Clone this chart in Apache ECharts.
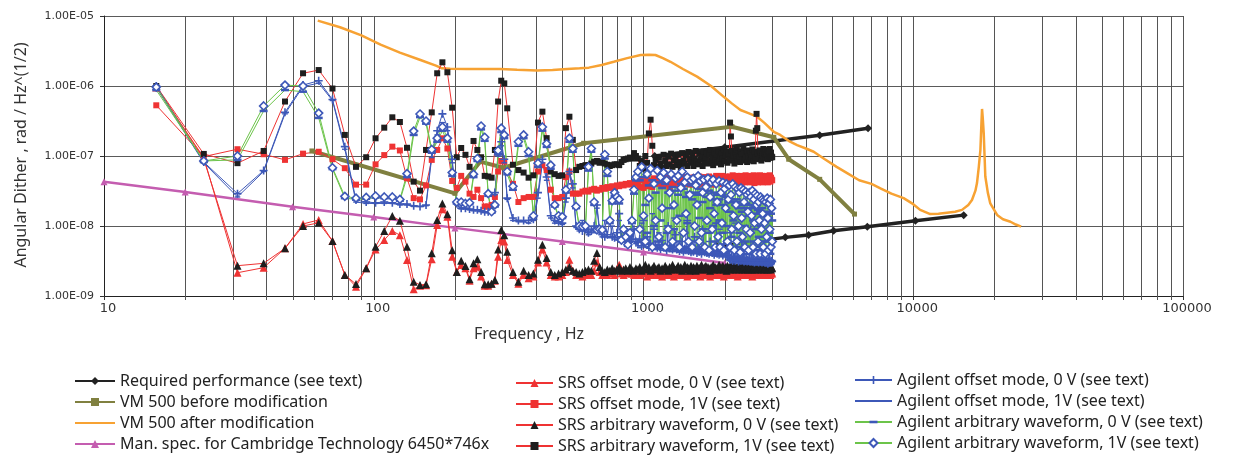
<!DOCTYPE html>
<html>
<head>
<meta charset="utf-8">
<title>Angular dither spectra</title>
<script src="https://cdn.jsdelivr.net/npm/echarts@6/dist/echarts.min.js"></script>
<style>
  html, body { margin: 0; padding: 0; background: #ffffff; }
  #chart { width: 1234px; height: 455px; }
</style>
</head>
<body>
<div id="chart"></div>
<script>
// FFT bin numbers of the measured dither spectra; one bin is 7.8125 Hz wide
const BIN_HZ = 7.8125;
const bins = [
  2,3,4,5,6,7,8,9,10,11,12,13,14,15,16,17,18,19,20,21,22,23,24,25,26,27,28,29,30,31,32,33,34,35,36,37,38,39,40,
  42,44,46,48,50,52,54,56,58,60,62,64,66,68,70,72,74,76,78,80,82,84,86,88,90,92,94,96,98,100,102,104,106,108,110,112,114,116,118,120,
  122,124,126,128,130,132,134,136,138,140,142,144,
  146,148,150,152,154,156,158,160,162,164,166,168,
  170,172,174,176,178,180,182,184,186,188,190,192,
  194,196,198,200,202,204,206,208,210,212,214,216,
  218,220,222,224,226,228,230,232,234,236,238,240,
  242,244,246,248,250,252,254,256,258,260,262,264,
  266,268,270,272,274,276,278,280,282,284,286,288,
  290,292,294,296,298,300,302,304,306,308,310,312,
  314,316,318,320,322,324,326,328,330,332,334,336,
  338,340,342,344,346,348,350,352,354,356,358,360,
  362,364,366,368,370,372,374,376,378,380,382,384
];

// Measured angular dither per bin, in nrad / Hz^(1/2)
const srsOffset0V = [
  950,95,2.15,2.54,4.8,10.7,12.2,6.1,2.0,1.36, 2.49,4.6,6.3,8.5,7.4,3.27,1.25,1.4,1.43,3.34, 10.3,17.3,13.6,3.65,2.2,2.77,2.49,1.65,2.49,2.62, 1.9,1.4,1.4,1.5,1.65,3.65,6.3,6.0,3.27,
  2.0,1.5,2.0,1.8,1.9,3.0,4.6,3.0,2.0,1.9, 1.9,2.0,2.2,3.3,2.3,2.0,2.0,1.9,2.0,2.1, 2.0,2.3,3.0,2.2,2.0,2.1,2.0,2.2,2.1,2.0, 2.4,2.8,2.1,2.0,2.2,2.1,2.3,2.1,2.0,2.2,
  2.1,2.0,2.3,2.1,2.2,1.9,2.4,2.1,2.0,2.2,2.3,2.0,
  2.2,2.1,1.9,2.3,2.0,2.2,2.1,2.4,2.0,2.2,1.9,2.1,
  2.3,2.0,2.2,2.1,2.4,2.0,2.1,2.3,1.9,2.2,2.1,2.0,
  2.2,2.4,2.0,2.1,2.3,2.0,2.2,1.9,2.1,2.3,2.0,2.2,
  2.1,2.0,2.3,2.2,1.9,2.1,2.4,2.0,2.2,2.1,2.3,2.0,
  2.2,2.1,2.0,2.3,2.1,2.2,1.9,2.1,2.4,2.0,2.2,2.1,
  2.0,2.3,2.1,2.2,2.0,2.4,2.1,2.0,2.2,2.3,1.9,2.1,
  2.2,2.0,2.1,2.3,2.0,2.2,2.1,2.4,2.0,2.1,2.2,2.0,
  2.1,2.3,2.0,2.2,2.1,1.9,2.3,2.1,2.2,2.0,2.4,2.1,
  2.0,2.2,2.1,2.3,2.0,2.1,2.2,2.0,2.3,2.1,2.0,2.2,
  2.1,2.0,2.2,2.1,2.3,2.0,2.1,2.2,2.0,2.1,2.2,2.1
];
const srsOffset1V = [
  530,98,125,106,88,108,115,90,67,39, 39,76,103,136,120,48,25,24,38,88, 122,179,128,44,35,52,43,29,26,33, 25,19,19,20,26,60,85,83,61,
  40,22,25,26,26,60,74,63,33,25, 25,26,50,60,29,29,29,31,32,31, 33,34,32,33,35,34,36,35,37,36, 38,37,39,38,40,39,41,40,41,42,
  40,36,45,35,42,47,37,44,36,48,40,45,
  41,47,37,43,49,39,45,36,48,41,46,39,
  43,49,38,46,37,50,42,47,40,44,49,39,
  46,40,50,43,38,47,51,42,48,40,45,50,
  43,48,40,51,45,41,49,46,39,48,52,43,
  47,41,50,44,52,40,48,43,51,46,41,49,
  44,51,42,48,53,41,49,46,44,52,42,47,
  49,43,52,41,47,51,45,42,53,47,43,49,
  45,52,42,49,44,51,47,53,41,49,45,52,
  47,42,51,45,53,43,49,52,42,47,51,45,
  49,43,52,46,42,51,45,53,43,49,46,45
];
const srsArb0V = [
  1000,90,2.71,2.93,4.8,10,11.1,6.1,2.0,1.48, 2.49,5.06,8.5,13.9,11.9,5.06,1.6,1.44,1.47,4.07, 12.2,21,14.7,4.5,2.2,3.2,2.68,1.73,2.93,3.34, 2.2,1.47,1.47,1.5,1.69,4.6,8.77,7.4,4.3,
  2.2,1.6,2.3,2.0,2.1,3.3,5.4,3.5,2.2,2.0, 2.1,2.2,2.4,2.6,2.3,2.2,2.1,2.2,2.3,2.4, 2.3,3.2,4.1,2.6,2.3,2.2,2.4,2.3,2.5,2.3, 2.4,2.6,2.3,2.4,2.5,2.3,2.6,2.4,2.3,2.5,
  2.4,2.6,2.3,2.5,2.8,2.4,2.6,2.3,2.5,2.7,2.4,2.5,
  2.6,2.3,2.5,2.4,2.7,2.5,2.3,2.6,2.4,2.8,2.5,2.4,
  2.5,2.7,2.4,2.6,2.3,2.5,2.8,2.4,2.6,2.5,2.3,2.7,
  2.4,2.6,2.5,2.3,2.7,2.5,2.4,2.6,2.8,2.4,2.5,2.6,
  2.7,2.4,2.6,2.5,2.3,2.6,2.5,2.8,2.4,2.6,2.5,2.4,
  2.5,2.8,2.4,2.6,2.5,2.7,2.4,2.5,2.6,2.3,2.7,2.5,
  2.6,2.4,2.7,2.5,2.4,2.6,2.8,2.5,2.4,2.6,2.5,2.7,
  2.4,2.6,2.5,2.8,2.4,2.5,2.6,2.4,2.7,2.5,2.6,2.4,
  2.5,2.7,2.4,2.6,2.5,2.4,2.8,2.5,2.6,2.4,2.7,2.5,
  2.6,2.4,2.5,2.7,2.5,2.6,2.4,2.8,2.5,2.6,2.4,2.5,
  2.5,2.6,2.4,2.7,2.5,2.4,2.6,2.5,2.7,2.4,2.6,2.5
];
const srsArb1V = [
  1000,107,79,118,600,1520,1690,920,200,70, 96,179,254,357,306,131,43,32,122,420, 1520,2180,1570,490,96,130,104,70,164,122, 96,52,51,49,122,600,1190,1090,480,
  75,63,58,49,53,300,430,180,60,55, 52,53,250,364,170,63,70,72,74,74, 78,83,85,80,83,78,75,72,74,76, 76,74,82,88,90,92,95,92,110,100,
  92,72,86,66,100,80,210,330,140,74,88,70,
  95,78,68,104,85,72,98,76,108,70,87,100,
  74,104,82,68,110,86,78,102,72,114,90,80,
  106,72,92,118,84,76,108,88,98,72,116,84,
  94,110,78,104,122,86,96,74,112,88,106,80,
  116,86,100,76,110,92,124,84,102,114,80,106,
  90,300,190,118,86,102,78,112,94,124,84,110,
  98,82,116,104,90,126,86,108,96,120,82,112,
  100,118,86,110,94,124,100,84,114,96,230,400,
  250,108,90,120,96,112,86,118,102,126,92,110,
  116,94,106,122,90,114,100,126,94,112,98,96
];
const agilentOffset0V = [
  1000,82,29,62,420,1030,1190,640,136,23.5, 22,21.5,22,21.5,20.6,20.6,19.5,19,20,110, 230,400,260,90,21,18,18,17.5,17,17, 16.5,16,16,16.5,30,110,160,90,25,
  13,12,12,12,12.5,30,90,50,14,12, 11.5,11,25,60,40,10,9,8.5,9,8, 8.5,10,20,9,7.5,7,7.5,12,7,6.8, 8,15,7,6.5,6.2,7,6,6.5,9,6,
  5.8,6.5,5.2,12,5.5,7,5,5.6,4.8,9,5.3,4.9,
  5.4,4.7,6.2,4.9,5.1,4.5,10,4.8,5.2,4.6,5,7.5,
  4.6,5,4.4,4.8,6,4.3,4.7,4.5,12,4.4,4.8,4.2,
  4.6,4.3,7,4.5,4.1,4.7,4.3,4.5,4.0,9,4.4,4.2,
  4.5,4.1,4.3,4.0,6,4.4,4.1,4.3,3.9,4.2,11,4.0,
  4.2,3.9,4.4,4.0,4.1,3.8,5.5,4.2,3.9,4.1,3.8,4.3,
  3.5,3.3,8,3.6,3.2,3.5,3.4,3.2,3.7,3.3,3.5,3.1,
  3.4,3.6,3.2,6,3.3,3.5,3.1,3.4,3.2,3.5,3.1,3.3,
  3.2,3.4,3.1,9,3.3,3.1,3.4,3.2,3.0,3.3,3.1,3.4,
  3.1,3.3,3.0,3.2,5,3.1,3.3,3.0,3.2,3.1,3.3,3.0,
  3.2,3.0,3.3,3.1,2.9,3.2,3.0,3.3,3.1,3.0,3.2,3.1
];
const agilentOffset1V = [
  950,80,26,60,400,980,1100,620,125,22, 21,21,21,21,20,20,19,19,19.5,95, 200,300,230,80,20,17.5,17.5,17,16.5,16.5, 16,15.5,15.5,16,28,100,140,80,24,
  12,11.5,11.5,11,12,25,80,45,13,11, 11,10.5,22,55,35,9.5,8.5,12,8.5,7.5, 9,8,18,8,7,12,7,6.8,10,6.5, 6.3,12,6.5,6,9,6,5.8,12,6,5.6,
  5.2,4.9,11,5.4,5.0,6.5,4.8,5.1,15,4.7,5.0,4.6,
  8,4.8,4.5,5,4.6,10,4.4,4.7,4.3,4.6,13,4.4,
  4.3,4.6,4.2,8,4.4,4.1,4.5,4.2,4.4,11,4.1,4.3,
  4.0,4.3,4.1,4.4,7,4.0,4.2,3.9,4.3,4.0,4.1,12,
  3.9,4.2,4.0,3.8,4.1,8,3.9,4.1,3.8,4.0,3.7,4.2,
  3.8,4.0,9,3.9,3.7,4.0,3.8,3.6,3.9,6,3.7,3.9,
  3.2,3.4,3.3,3.0,3.5,3.2,11,3.4,3.0,3.3,3.2,3.4,
  3.0,3.3,2.9,3.2,7,3.0,3.3,2.9,3.2,3.0,3.4,2.9,
  3.2,2.9,3.3,3.0,2.8,8,3.2,2.9,3.0,2.8,3.2,2.9,
  3.0,2.8,3.2,2.9,3.0,2.8,5,2.9,3.2,2.8,3.0,2.9,
  2.8,3.0,2.9,2.7,3.0,2.8,7,2.9,2.7,3.0,2.8,2.9
];
const agilentArb0V = [
  875,85,88,440,875,830,350,65,25,24, 24.5,25.5,25,25,23,50,200,360,290,115, 160,230,160,52,21,21,20,20.5,50,85, 240,165,27,15.5,19,105,220,180,55,
  33,140,180,100,13.5,70,230,135,66,19, 13.5,13,30,160,115,18,9.5,9.5,9.5,62, 115,20,8.5,8.5,8.5,92,52,11,21,27, 23,21,6,8.5,6.5,5.2,7.5,11,29,45,
  9,45,6,50,20,8,38,5,45,10,30,6,
  42,12,35,5,40,8,30,18,5,36,9,32,
  6,28,14,40,5,34,8,26,11,30,5,38,
  24,6,30,10,4.5,28,13,34,5,22,9,30,
  5,26,8,32,18,4.5,24,10,30,6,20,28,
  4.5,24,12,5,28,8,20,4.5,26,10,6,22,
  16,4.5,24,7,22,12,5,20,9,24,4.2,18,
  8,22,5,16,20,4.5,18,10,6,21,4,17,
  14,5,20,8,4,18,12,6,19,4.5,15,9,
  5,17,7,4,16,10,4.5,18,6,14,4,15,
  12,4,16,6,15,4.2,13,8,4,15,6,12
];
const agilentArb1V = [
  965,85,100,518,1030,1000,410,68,26.5,25, 25.6,26.8,26,26,24,56,227,398,316,124, 180,260,180,58,22,22,21,21.5,55,92, 268,185,29,16,20,120,250,200,60,
  37,160,200,115,14,79,260,150,74,20, 14,13.6,33,180,128,19,10,9.8,10,70, 128,22,8.8,9,8.8,105,60,12,23,30, 26,24,6.3,9,7,5.4,8,12,33,50,
  60,9,70,14,6,55,25,66,5,40,12,62,
  7,50,18,58,5,45,9,30,55,6,20,48,
  12,52,5,35,60,8,42,15,50,6,28,45,
  5,48,10,38,20,52,6,44,8,30,46,5,
  36,12,48,4.5,26,42,9,46,15,5,40,22,
  7,44,5,30,11,42,4.5,34,18,40,6,24,
  38,5,28,9,40,14,4.5,36,20,6,34,10,
  30,4.2,35,13,7,33,22,5,31,9,28,16,
  4.5,30,8,26,14,32,5,24,11,29,4,20,
  27,6,22,12,4,26,9,24,15,5,23,11,
  4,22,7,25,13,4.5,21,9,24,5,18,6
];

// Curves given as [frequency Hz, nrad / Hz^(1/2)]
const requiredLow = [[1862,5.18],[2041,5.35],[3355,6.88],[4095,7.42],[5067,8.56],[6757,9.77],[10190,11.9],[15380,14.3]];
const requiredHigh = [[1100,100],[2000,133],[4500,198],[6800,249]];
const vmBefore = [[59,118],[200,29.3],[248,83],[303,68],[600,152],[2128,262],[3041,185],[3454,90],[4500,46.4],[6055,14.8]];
const vmAfter = [
  [62,8600],[75,6900],[90,5300],[106,3900],[125,3000],[149,2350],[170,1950],[179,1790],[192,1760],[220,1750],
  [260,1750],[295,1750],[340,1700],[403,1660],[460,1690],[521,1750],[580,1790],[627,1830],[700,2000],[776,2220],
  [870,2500],[976,2770],[1050,2800],[1107,2770],[1180,2500],[1259,2220],[1400,1750],[1580,1360],[1780,1000],[1984,700],
  [2130,560],[2287,454],[2450,410],[2636,364],[2800,300],[3040,222],[3214,200],[3450,165],[3710,143],[4000,128],
  [4276,115],[4700,90],[5200,70],[5688,57],[6300,45],[7000,40],[7557,34.6],[8300,29],[9210,25],[10000,20.5],
  [10610,17],[11560,14.8],[12400,15],[13330,15.5],[14300,16],[15160,17],[16000,20],[16510,23.5],[17000,32],[17230,41],
  [17500,70],[17740,122],[17900,300],[17990,470],[18100,350],[18250,211],[18400,90],[18500,51],[18900,30],[19300,21],
  [20460,14.4],[21500,12.5],[22930,11.5],[24000,10.5],[25120,9.8]
];
const cambridgeSpec = [[10,43],[20,30.5],[50,18.9],[100,13.4],[200,9.4],[500,6.0],[1000,4.25],[2000,2.96]];

// Axis ranges and the 2..9 per-decade grid lines of the frequency axis
const X_MIN = 10, X_MAX = 100000;
const Y_MIN = 1e-9, Y_MAX = 1e-5;
const minorGridHz = [20,30,40,50,60,70,80,90, 200,300,400,500,600,700,800,900,
  2000,3000,4000,5000,6000,7000,8000,9000, 20000,30000,40000,50000,60000,70000,80000,90000];

const NRAD = 1e-9;
const binSeries = vals => bins.map((b, i) => [b * BIN_HZ, vals[i] * NRAD]);
const pairSeries = pts => pts.map(p => [p[0], p[1] * NRAD]);

const NAMES = {
  req: 'Required performance (see text)',
  vmB: 'VM 500 before modification',
  vmA: 'VM 500 after modification',
  cam: 'Man. spec. for Cambridge Technology 6450*746x',
  so0: 'SRS offset mode, 0 V (see text)',
  so1: 'SRS offset mode, 1V (see text)',
  sa0: 'SRS arbitrary waveform, 0 V (see text)',
  sa1: 'SRS arbitrary waveform, 1V (see text)',
  ao0: 'Agilent offset mode, 0 V (see text)',
  ao1: 'Agilent offset mode, 1V (see text)',
  aa0: 'Agilent arbitrary waveform, 0 V (see text)',
  aa1: 'Agilent arbitrary waveform, 1V (see text)'
};

const RED = '#ef3333', BLACK = '#1e1e1e', BLUE = '#3d58b8', GREEN = '#6cc44a';
// Marker shapes; the leading moves keep a square 10x10 box so dashes stay flat
const PLUS = 'path://M4,0L6,0L6,4L10,4L10,6L6,6L6,10L4,10L4,6L0,6L0,4L4,4Z';
const DASH_THIN = 'path://M0,0M10,10M1,4L9,4L9,6L1,6Z';
const DASH_THICK = 'path://M0,0M10,10M0,3.4L10,3.4L10,6.6L0,6.6Z';
const NO_MARK = 'path://M0,0M10,10';

function line(name, data, opt) {
  return Object.assign({
    type: 'line', name: name, data: data,
    showAllSymbol: true, animation: false, silent: true,
    emphasis: { disabled: true }
  }, opt);
}

const chart = echarts.init(document.getElementById('chart'), null, { renderer: 'canvas' });

const legendText = { fontFamily: 'Noto Sans', fontSize: 16, color: '#222' };
const legendBase = { orient: 'vertical', padding: 0, itemHeight: 10, itemGap: 5, selectedMode: false, textStyle: legendText };

chart.setOption({
  backgroundColor: '#ffffff',
  animation: false,
  grid: { left: 104, top: 16, width: 1079, height: 280, outerBoundsMode: 'none', containLabel: false },
  xAxis: {
    type: 'log', logBase: 10, min: X_MIN, max: X_MAX,
    axisLine: { show: true, lineStyle: { color: '#222', width: 1 } },
    axisTick: { show: true, inside: false, length: 4, lineStyle: { color: '#333' } },
    splitLine: { show: true, lineStyle: { color: '#555', width: 1 } },
    axisLabel: { margin: 6, padding: [0, 0, 0, 8], fontFamily: 'DejaVu Sans', fontSize: 13, color: '#333',
      formatter: v => String(Math.round(v)) }
  },
  yAxis: {
    type: 'log', logBase: 10, min: Y_MIN, max: Y_MAX,
    axisLine: { show: true, lineStyle: { color: '#222', width: 1 } },
    axisTick: { show: true, inside: false, length: 4, lineStyle: { color: '#333' } },
    splitLine: { show: true, lineStyle: { color: '#5a5a5a', width: 1 } },
    axisLabel: { margin: 10, fontFamily: 'DejaVu Sans', fontSize: 11, color: '#333',
      formatter: v => {
        const e = Math.round(Math.log10(v));
        return '1.00E' + (e < 0 ? '-' : '+') + String(Math.abs(e)).padStart(2, '0');
      } }
  },
  legend: [
    Object.assign({ left: 74, top: 373, itemWidth: 40, data: [NAMES.req, NAMES.vmB, NAMES.vmA, NAMES.cam] }, legendBase),
    Object.assign({ left: 515, top: 375, itemWidth: 37, data: [NAMES.so0, NAMES.so1, NAMES.sa0, NAMES.sa1] }, legendBase),
    Object.assign({ left: 854, top: 372, itemWidth: 37, data: [NAMES.ao0, NAMES.ao1, NAMES.aa0, NAMES.aa1] }, legendBase)
  ],
  graphic: [
    { type: 'text', left: 474, top: 326, silent: true,
      style: { text: 'Frequency , Hz', fontFamily: 'Noto Sans', fontSize: 16, fill: '#333' } },
    { type: 'text', x: 21, y: 155, rotation: Math.PI / 2, silent: true,
      style: { text: 'Angular Dither , rad / Hz^(1/2)', fontFamily: 'Noto Sans', fontSize: 16, fill: '#333',
        align: 'center', verticalAlign: 'middle' } }
  ],
  series: [
    {
      type: 'custom', name: 'minor-grid', silent: true, z: 1, animation: false, clip: false,
      data: minorGridHz.map(f => [f, Y_MIN]),
      renderItem: (params, api) => {
        const f = api.value(0);
        const top = api.coord([f, Y_MAX]);
        const bottom = api.coord([f, Y_MIN]);
        const x = Math.round(top[0]) + 0.5;
        return { type: 'line', shape: { x1: x, y1: top[1], x2: x, y2: bottom[1] + 4 },
          style: { stroke: '#555', lineWidth: 1 } };
      }
    },
    line(NAMES.req, pairSeries(requiredHigh), { symbol: 'diamond', symbolSize: 8,
      lineStyle: { color: '#222', width: 3.5 }, itemStyle: { color: '#222' } }),
    line(NAMES.req, pairSeries(requiredLow), { symbol: 'diamond', symbolSize: 8,
      lineStyle: { color: '#222', width: 3.5 }, itemStyle: { color: '#222' } }),
    line(NAMES.vmB, pairSeries(vmBefore), { symbol: 'rect', symbolSize: 5,
      lineStyle: { color: '#808040', width: 4 }, itemStyle: { color: '#808040' } }),
    line(NAMES.vmA, pairSeries(vmAfter), { symbol: NO_MARK, showSymbol: false,
      lineStyle: { color: '#f7a233', width: 2.5 }, itemStyle: { color: '#f7a233' } }),
    line(NAMES.cam, pairSeries(cambridgeSpec), { symbol: 'triangle', symbolSize: 7,
      lineStyle: { color: '#c45db0', width: 2.5 }, itemStyle: { color: '#c45db0' } }),
    line(NAMES.so0, binSeries(srsOffset0V), { symbol: 'triangle', symbolSize: 8,
      lineStyle: { color: RED, width: 1 }, itemStyle: { color: RED } }),
    line(NAMES.so1, binSeries(srsOffset1V), { symbol: 'rect', symbolSize: 6,
      lineStyle: { color: RED, width: 1 }, itemStyle: { color: RED } }),
    line(NAMES.sa0, binSeries(srsArb0V), { symbol: 'triangle', symbolSize: 8,
      lineStyle: { color: RED, width: 1 }, itemStyle: { color: BLACK } }),
    line(NAMES.sa1, binSeries(srsArb1V), { symbol: 'rect', symbolSize: 6,
      lineStyle: { color: RED, width: 1 }, itemStyle: { color: BLACK } }),
    line(NAMES.ao0, binSeries(agilentOffset0V), { symbol: PLUS, symbolSize: 8,
      lineStyle: { color: BLUE, width: 1 }, itemStyle: { color: BLUE } }),
    line(NAMES.ao1, binSeries(agilentOffset1V), { symbol: DASH_THIN, symbolSize: 7,
      lineStyle: { color: BLUE, width: 1 }, itemStyle: { color: BLUE } }),
    line(NAMES.aa0, binSeries(agilentArb0V), { symbol: DASH_THICK, symbolSize: 8,
      lineStyle: { color: GREEN, width: 1 }, itemStyle: { color: BLUE } }),
    line(NAMES.aa1, binSeries(agilentArb1V), { symbol: 'diamond', symbolSize: 8,
      lineStyle: { color: GREEN, width: 1 }, itemStyle: { color: '#ffffff', borderColor: BLUE, borderWidth: 1.6 } })
  ]
});
</script>
</body>
</html>
